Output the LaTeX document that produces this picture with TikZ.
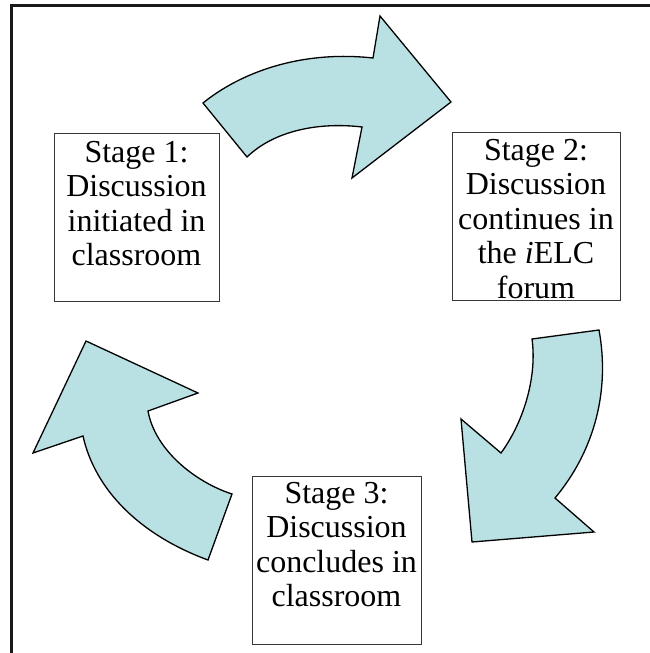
\documentclass[tikz,border=0pt]{standalone}
\usepackage{fontspec}
\setmainfont{Liberation Serif}
\definecolor{arrowfill}{RGB}{185,224,227}
\definecolor{boxline}{RGB}{55,55,55}
\begin{document}
\begin{tikzpicture}[x=1pt,y=-1pt,
  cyclearrow/.style={fill=arrowfill, draw=black, line width=1.3pt, line join=miter},
  stagebox/.style={draw=boxline, line width=1pt, inner sep=0pt, fill=white,
    font=\fontsize{32}{34.5}\selectfont},
  frameline/.style={line width=2.5pt, draw=black!90, line cap=rect}]
\useasboundingbox (0,0) rectangle (650,653);

% page frame: top and left edges only
\coordinate (fbl) at (11.5,660);
\coordinate (ftl) at (11.5,5.5);
\coordinate (ftr) at (660,5.5);
\draw[frameline] (fbl) -- (ftl) -- (ftr);

% cycle arrows
\draw[cyclearrow] (203,103) .. controls (240,73) and (300,50) .. (373,58)
  -- (380,16) -- (451,102) -- (352,178) -- (362,127)
  .. controls (320,122) and (275,130) .. (247,157) -- cycle;

\draw[cyclearrow] (599,330) .. controls (610,390) and (595,450) .. (555,498)
  -- (594,532) -- (472,542) -- (461,419) -- (501,453)
  .. controls (525,420) and (537,375) .. (532,339) -- cycle;

\draw[cyclearrow] (208,560) .. controls (140,535) and (95,490) .. (83,436)
  -- (33,453) -- (86,341) -- (198,393) -- (148,411)
  .. controls (155,450) and (195,482) .. (232,494) -- cycle;

% stage boxes
\node[stagebox] (s1) at (136.5,217) {\parbox[c][168pt][t]{165pt}{\centering
  \rule{0pt}{29pt}Stage 1:\\ Discussion\\ initiated in\\ classroom}};
\node[stagebox] (s2) at (536,216) {\parbox[c][168pt][t]{168pt}{\centering
  \rule{0pt}{28pt}Stage 2:\\ Discussion\\ continues in\\ the \textit{i}ELC\\ forum}};
\node[stagebox] (s3) at (336.5,560) {\parbox[c][168pt][t]{169pt}{\centering
  \rule{0pt}{27pt}Stage 3:\\ Discussion\\ concludes in\\ classroom}};
\end{tikzpicture}
\end{document}
